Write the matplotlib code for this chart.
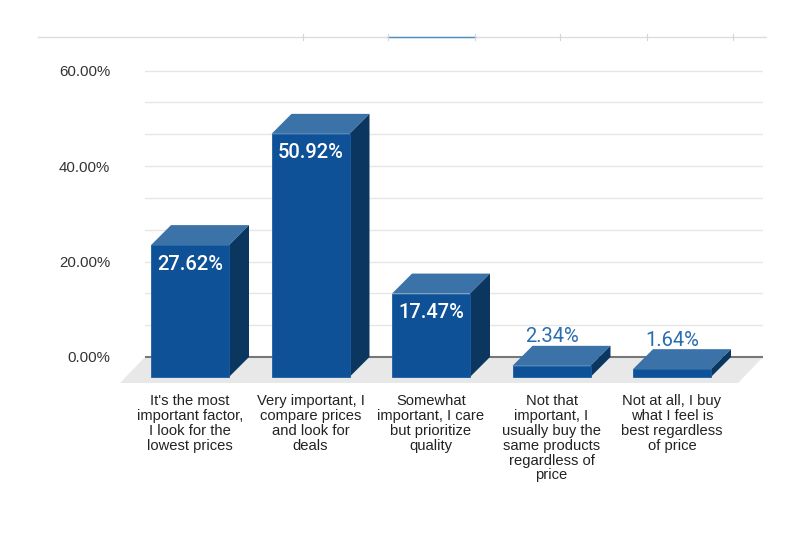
import numpy as np
import matplotlib.pyplot as plt
from matplotlib.patches import Polygon
from matplotlib.lines import Line2D
from matplotlib.ticker import MultipleLocator

categories = [
    "It's the most\nimportant factor,\nI look for the\nlowest prices",
    "Very important, I\ncompare prices\nand look for\ndeals",
    "Somewhat\nimportant, I care\nbut prioritize\nquality",
    "Not that\nimportant, I\nusually buy the\nsame products\nregardless of\nprice",
    "Not at all, I buy\nwhat I feel is\nbest regardless\nof price",
]
values = [27.62, 50.92, 17.47, 2.34, 1.64]
value_labels = ["27.62%", "50.92%", "17.47%", "2.34%", "1.64%"]
yticks = [0, 20, 40, 60]
ytick_labels = ["0.00%", "20.00%", "40.00%", "60.00%"]

W, H = 804, 534
fig = plt.figure(figsize=(W / 100, H / 100), dpi=100)

# pixel geometry
px_unit = 120.5        # px per category
px_pct = 4.775         # px per percent
x_left, x_right = 145, 763
zero_px = 357
y0, y1 = -6, 61
top_px = zero_px - y1 * px_pct
bot_px = zero_px - y0 * px_pct
ax = fig.add_axes([x_left / W, (H - bot_px) / H, (x_right - x_left) / W, (bot_px - top_px) / H])
ax.set_xlim(-65 / px_unit, (x_right - 210) / px_unit)
ax.set_ylim(y0, y1)

bw = 78 / px_unit
ddx = 20 / px_unit
ddy = 20 / px_pct
fdx = 25 / px_unit
fdy = 26 / px_pct

xl, xr = ax.get_xlim()
# floor
ax.add_patch(Polygon([(xl, 0), (xr, 0), (xr - fdx, -fdy), (xl - fdx, -fdy)],
                     closed=True, facecolor='#e8e8e8', edgecolor='none', zorder=1, clip_on=False))
# gridlines
ax.yaxis.set_minor_locator(MultipleLocator(20 / 3))
ax.set_yticks(yticks)
ax.set_yticklabels(ytick_labels)
ax.grid(True, which='both', axis='y', color='#e6e6e6', linewidth=1, zorder=0)
ax.set_axisbelow(True)
ax.axhline(0, color='#777777', linewidth=1.5, zorder=2)

front_c = '#0f5196'
top_c = '#3b73a9'
side_c = '#0a365f'
for i, v in enumerate(values):
    bl = i - bw / 2 - ddx
    br = i + bw / 2 - ddx
    b = -ddy
    t = v - ddy
    ax.add_patch(Polygon([(bl, t), (br, t), (br + ddx, t + ddy), (bl + ddx, t + ddy)],
                         facecolor=top_c, edgecolor='none', zorder=3, clip_on=False))
    ax.add_patch(Polygon([(br, b), (br + ddx, b + ddy), (br + ddx, t + ddy), (br, t)],
                         facecolor=side_c, edgecolor='none', zorder=3, clip_on=False))
    ax.add_patch(Polygon([(bl, b), (br, b), (br, t), (bl, t)],
                         facecolor=front_c, edgecolor='#1b5ea3', linewidth=0.6, zorder=4, clip_on=False))
    fc = i - ddx
    if v > 10:
        ax.text(fc, t - 19 / px_pct, value_labels[i], ha='center', va='center', color='white',
                fontsize=14.5, fontweight='medium', family='Roboto', zorder=5)
    else:
        ax.text(fc, v + 9 / px_pct, value_labels[i], ha='center', va='center', color='#2a6cb0',
                fontsize=14.5, family='Roboto', zorder=5)
    ax.text(fc, (zero_px - 394) / px_pct, categories[i], ha='center', va='top',
            fontsize=10.6, family='Liberation Sans', color='#222222', linespacing=1.08,
            clip_on=False)

for s in ax.spines.values():
    s.set_visible(False)
ax.set_xticks([])
ax.tick_params(axis='y', which='both', length=0, pad=25, labelsize=10.8, labelcolor='#333333')
for lab in ax.get_yticklabels():
    lab.set_family('Liberation Sans')

# decorative line at top of the frame
ty = (H - 37) / H
fig.add_artist(Line2D([38 / W, 766 / W], [ty, ty], color='#dddddd', linewidth=1))
fig.add_artist(Line2D([388 / W, 475 / W], [ty, ty], color='#4a8fc4', linewidth=1))
for tx in [303, 388, 475, 560, 647, 733]:
    fig.add_artist(Line2D([tx / W, tx / W], [(H - 34) / H, (H - 40) / H], color='#d5d5d5', linewidth=0.8))

fig.savefig('out.png', dpi=100)
